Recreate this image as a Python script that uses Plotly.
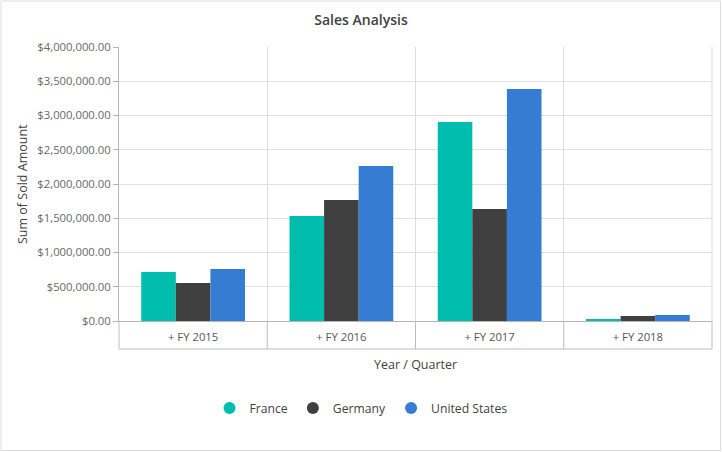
import plotly.graph_objects as go

categories = ["+ FY 2015", "+ FY 2016", "+ FY 2017", "+ FY 2018"]
france = [715000, 1533000, 2905000, 15000]
germany = [555000, 1766000, 1635000, 73000]
united_states = [759000, 2263000, 3387000, 88000]
series_names = ["France", "Germany", "United States"]
colors = ["#00bdae", "#404041", "#357cd2"]

W, H = 722, 452
L, R, T, B = 119, 712, 47, 321  # plot area pixels
pw, ph = R - L, B - T


def px(x):
    return (x - L) / pw


def py(y):
    return (B - y) / ph


fig = go.Figure()
for name, vals, c in zip(series_names, [france, germany, united_states], colors):
    fig.add_trace(go.Bar(x=categories, y=vals, name=name, marker=dict(color=c, line=dict(width=0)),
                         showlegend=False))
    fig.add_trace(go.Scatter(x=[None], y=[None], mode="markers", name=name,
                             marker=dict(color=c, size=12, symbol="circle")))

font_family = "Segoe UI, Open Sans, Noto Sans, sans-serif"

shapes = []
# outer border
shapes.append(dict(type="rect", xref="paper", yref="paper", x0=px(1), x1=px(720.5), y0=py(450.5), y1=py(1),
                   line=dict(color="#dddddd", width=1), fillcolor="rgba(0,0,0,0)", layer="below"))
# category boxes
box_bottom = py(349)
for i in range(5):
    shapes.append(dict(type="line", xref="paper", yref="paper", x0=i / 4, x1=i / 4, y0=0, y1=box_bottom,
                       line=dict(color="#bdbdbd", width=1)))
shapes.append(dict(type="line", xref="paper", yref="paper", x0=0, x1=1, y0=box_bottom, y1=box_bottom,
                   line=dict(color="#bdbdbd", width=1)))
# right edge grid line
shapes.append(dict(type="line", xref="paper", yref="paper", x0=1, x1=1, y0=0, y1=1,
                   line=dict(color="#dcdcdc", width=1), layer="below"))

fig.update_layout(
    width=W, height=H,
    margin=dict(l=L, r=W - R, t=T, b=H - B, autoexpand=False),
    paper_bgcolor="white", plot_bgcolor="white",
    font=dict(family=font_family, size=11.3, color="#686868"),
    title=dict(text="Sales Analysis", x=0.5, xref="container", xanchor="center",
               y=1 - 20 / H, yref="container", yanchor="middle",
               font=dict(size=14, color="#424242", weight=600)),
    barmode="group", bargap=0.3, bargroupgap=0,
    xaxis=dict(type="category", tickson="boundaries", showgrid=True, gridcolor="#dcdcdc", gridwidth=1,
               showline=True, linecolor="#b5b5b5", ticks="", ticklabelstandoff=5,
               tickfont=dict(size=11.3, color="#555555"), fixedrange=True),
    yaxis=dict(range=[0, 4000000], dtick=500000, tickformat="$,.2f", showgrid=True, gridcolor="#e0e0e0",
               showline=True, linecolor="#b5b5b5", ticks="outside", ticklen=5, tickcolor="#b5b5b5",
               tickfont=dict(size=11.3, color="#686868"), zeroline=False),
    legend=dict(orientation="h", xref="container", yref="container", x=0.5, xanchor="center",
                y=1 - 408 / H, yanchor="middle", font=dict(size=12.2, color="#424242"),
                itemclick=False, itemwidth=30),
    shapes=shapes,
    annotations=[
        dict(text="Sum of Sold Amount", xref="paper", yref="paper", x=px(22), y=py(184), textangle=-90,
             showarrow=False, font=dict(size=12.5, color="#424242"), xanchor="center", yanchor="middle"),
        dict(text="Year / Quarter", xref="paper", yref="paper", x=px(415), y=py(364),
             showarrow=False, font=dict(size=12.5, color="#424242"), xanchor="center", yanchor="middle"),
    ],
)

fig.write_html("out.html")
